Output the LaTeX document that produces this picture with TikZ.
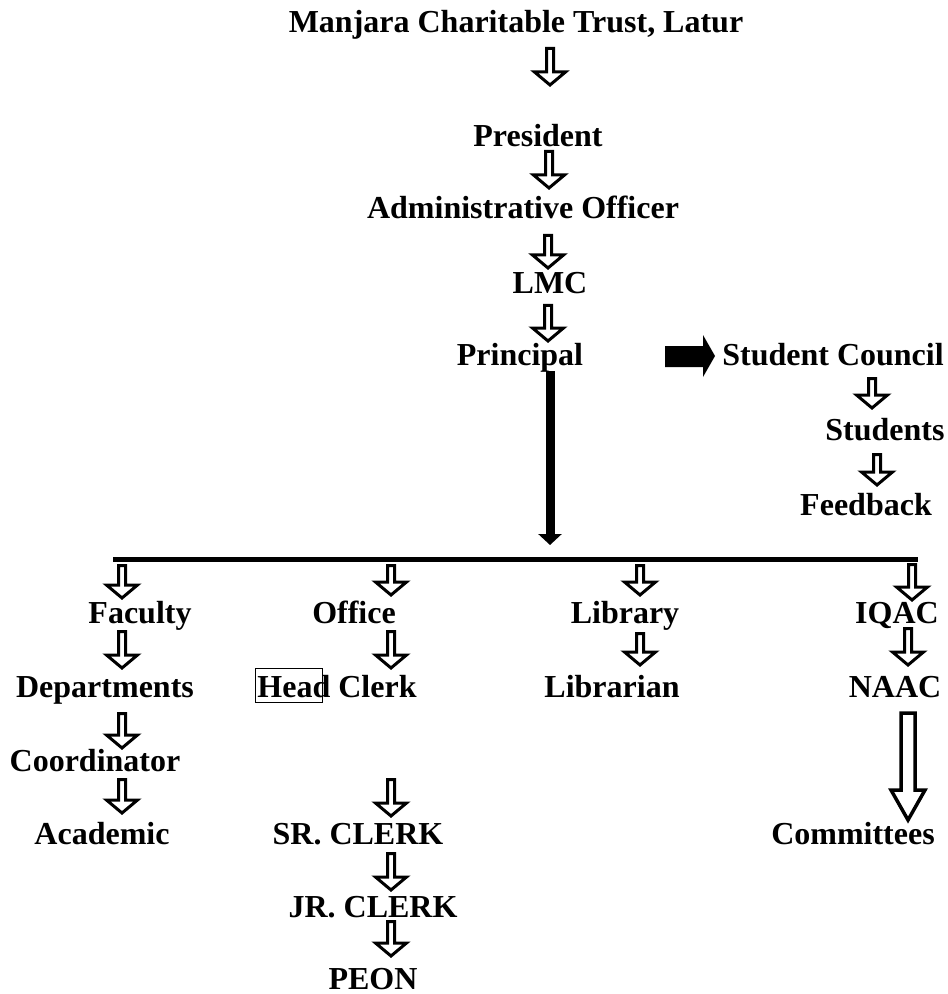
\documentclass[tikz,border=0pt]{standalone}
\usepackage{fontspec}
\setmainfont{Liberation Serif}
\usetikzlibrary{arrows.meta}

\tikzset{
  lbl/.style={font=\fontsize{16}{19}\selectfont\bfseries, inner sep=0pt, anchor=base},
  downarr/.pic={
    \draw[line width=1.5pt, line join=miter, fill=white]
      (-3.5,1.5) -- (3.5,1.5) -- (3.5,#1-15) -- (15.5,#1-15) -- (0,#1-2)
      -- (-15.5,#1-15) -- (-3.5,#1-15) -- cycle;
  }
}

\begin{document}
\begin{tikzpicture}[x=0.5pt, y=-0.5pt]
  \useasboundingbox (0,0) rectangle (947,994);

  % top of the chart
  \node[lbl] (trust)      at (516,33)  {Manjara Charitable Trust, Latur};
  \node[lbl] (president)  at (538,147) {President};
  \node[lbl] (admin)      at (523,219) {Administrative Officer};
  \node[lbl] (lmc)        at (550,293) {LMC};
  \node[lbl] (principal)  at (520,365) {Principal};
  \node[lbl] (council)    at (833,365) {Student Council};
  \node[lbl] (students)   at (885,440) {Students};
  \node[lbl] (feedback)   at (866,515) {Feedback};

  % branches
  \node[lbl] (faculty)    at (140,623) {Faculty};
  \node[lbl] (office)     at (354,623) {Office};
  \node[lbl] (library)    at (625,623) {Library};
  \node[lbl] (iqac)       at (897,623) {IQAC};
  \node[lbl] (depts)      at (105,697) {Departments};
  \node[lbl] (headclerk)  at (337,697) {Head Clerk};
  \node[lbl] (librarian)  at (612,697) {Librarian};
  \node[lbl] (naac)       at (895,697) {NAAC};
  \node[lbl] (coord)      at (95,771)  {Coordinator};
  \node[lbl] (academic)   at (102,844) {Academic};
  \node[lbl] (srclerk)    at (358,844) {SR. CLERK};
  \node[lbl] (jrclerk)    at (373,917) {JR. CLERK};
  \node[lbl] (peon)       at (373,989) {PEON};
  \node[lbl] (committees) at (853,844) {Committees};

  \draw[line width=0.5pt] (255,668) rectangle (322,702);

  % hollow arrows
  \pic at (550,47)  {downarr=40};
  \pic at (549,150) {downarr=40};
  \pic at (548,234) {downarr=36};
  \pic at (548,304) {downarr=39};
  \pic at (872,377) {downarr=33};
  \pic at (877,453) {downarr=34};

  \pic at (122,564) {downarr=36};
  \pic at (391,564) {downarr=33};
  \pic at (640,564) {downarr=33};
  \pic at (912,563) {downarr=39};

  \pic at (122,630) {downarr=40};
  \pic at (391,630) {downarr=40};
  \pic at (640,632) {downarr=35};
  \pic at (908,627) {downarr=40};

  \pic at (122,712) {downarr=38};
  \pic at (122,778) {downarr=37};
  \pic at (391,778) {downarr=40};
  \pic at (391,852) {downarr=40};
  \pic at (391,920) {downarr=38};

  \draw[line width=1.75pt, line join=miter, fill=white]
    (901,713) -- (915,713) -- (915,790) -- (925,790) -- (908,820)
    -- (891,790) -- (901,790) -- cycle;

  % principal to the branches
  \coordinate (drop) at (550,371);
  \coordinate (barL) at (113,559.5);
  \coordinate (barR) at (918,559.5);
  \draw[line width=4.5pt, -{Triangle[width=11.5pt,length=5.5pt]}] (drop) -- (550,545);
  \draw[line width=2.5pt] (barL) -- (barR);

  \fill (665,346) -- (703,346) -- (703,335) -- (715,356) -- (703,377)
    -- (703,367) -- (665,367) -- cycle;
\end{tikzpicture}
\end{document}
